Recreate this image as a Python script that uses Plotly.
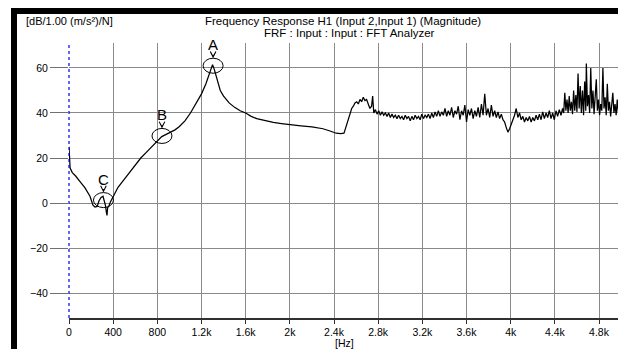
import plotly.graph_objects as go

# ---------------- data ----------------
freq_smooth = [0, 5, 10, 30, 60, 100, 145, 190, 217, 235, 255, 272, 290, 308, 320, 330, 338, 344,
               350, 360, 375, 400, 444, 500, 553, 600, 650, 700, 750, 800, 840, 880, 920, 960,
               1000, 1050, 1100, 1150, 1200, 1240, 1270, 1290, 1300, 1315, 1340, 1370, 1400,
               1450, 1500, 1550, 1600, 1650, 1700, 1775, 1850, 1925, 2000, 2100, 2200, 2300,
               2364, 2420, 2460, 2490]
mag_smooth = [25, 18, 15.5, 13.5, 12, 9.5, 6.7, 3, -1, -1.8, -1.5, 1, 2.5, 3, 1, -1, -4, -5.5,
              -2, -1.5, 0.5, 3, 7, 10.5, 14, 17, 20, 22.5, 25, 27.5, 29.5, 30.5, 31.5, 32.5,
              34, 36.5, 40, 44, 48.5, 53, 57, 60.5, 61.5, 59.5, 55, 50, 47.5,
              44.5, 42.5, 41, 40, 38.5, 37.5, 36.5, 35.8, 35.3, 34.8, 34.3, 33.8, 33,
              32, 31, 30.8, 31]

freq_noisy = [2500, 2515, 2530, 2545, 2560, 2575, 2590, 2605, 2620, 2635, 2650, 2665, 2680, 2695,
              2710, 2725, 2740, 2750, 2760, 2775, 2790, 2805, 2820, 2835, 2850, 2865, 2880, 2895,
              2910, 2925, 2940, 2955, 2970, 2985, 3000, 3015, 3030, 3045, 3060, 3075, 3090, 3105,
              3120, 3135, 3150, 3165, 3180, 3195, 3210, 3225, 3240, 3255, 3270, 3285, 3300, 3315,
              3330, 3345, 3360, 3375, 3390, 3405, 3420, 3435, 3450, 3465, 3480, 3495, 3510, 3525,
              3540, 3555, 3570, 3585, 3600, 3615, 3630, 3645, 3660, 3675, 3690, 3705, 3720, 3735,
              3750, 3765, 3780, 3795, 3810, 3825, 3840, 3855, 3870, 3885, 3900, 3915, 3930, 3945,
              3960, 3975, 3990, 4005, 4020, 4035, 4050, 4065, 4080, 4095, 4110, 4125, 4140, 4155,
              4170, 4185, 4200, 4215, 4230, 4245, 4260, 4275, 4290, 4305, 4320, 4335, 4350, 4365,
              4380, 4395, 4410, 4425, 4440, 4455, 4470, 4480, 4490, 4500, 4510, 4520, 4530, 4540,
              4550, 4560, 4570, 4580, 4590, 4600, 4610, 4620, 4630, 4640, 4650, 4660, 4670, 4680,
              4685, 4695, 4705, 4715, 4725, 4735, 4745, 4755, 4765, 4775, 4785, 4795, 4805, 4815,
              4825, 4835, 4845, 4855, 4865, 4875, 4885, 4895, 4905, 4915, 4925, 4935, 4945, 4955,
              4965, 4975, 4985, 4995]
mag_noisy = [32.5, 35, 37.5, 40, 42, 43, 44.5, 45, 44, 46, 45, 47, 45.5, 46,
             44, 42, 43, 47.5, 40, 41.5, 39.5, 41, 39, 40.5, 39, 40, 38.5, 40,
             38, 39.5, 38, 39, 37.5, 39, 37.5, 38.5, 37, 39, 37.5, 38.5, 36.5, 38.5,
             37, 39, 37.5, 38.5, 37, 39.5, 37.5, 39, 38, 39.5, 37.5, 40, 38, 40.5,
             38.5, 41, 38.5, 40.5, 39, 42, 38.5, 41, 39, 42.5, 38, 41, 39.5, 43,
             37, 41, 39, 43.5, 36, 41.5, 39, 42, 37.5, 41, 38.5, 42.5, 38, 44,
             39, 48.5, 39, 42, 38, 43.5, 38.5, 41, 38, 40.5, 37.5, 39.5, 37, 36,
             33.5, 31.5, 33, 35.5, 37, 39, 42, 38, 40, 37, 38.5, 36, 38, 36.5,
             38.5, 36, 38, 36.5, 39, 37, 39.5, 37, 40.5, 37.5, 40, 38, 41, 37.5,
             40, 37, 41, 38.5, 41.5, 39, 42, 40, 49, 41, 46, 40, 47.5, 41,
             45, 39.5, 50, 41, 48, 40.5, 57.5, 42, 52, 40, 50, 39, 54, 41,
             62, 43, 48, 40, 60, 42, 50, 39.5, 47, 55, 41, 46, 39, 44,
             41, 60, 42, 47, 39, 53, 41, 45, 38.5, 44, 49, 40, 44, 39,
             46, 40.5, 43, 41]

freq_hz = freq_smooth + freq_noisy
mag_db = mag_smooth + mag_noisy

marker_labels = ["A", "B", "C"]
marker_freq = [1305, 842, 312]
marker_db = [61, 29.8, 1.3]

x_tickvals = [0, 400, 800, 1200, 1600, 2000, 2400, 2800, 3200, 3600, 4000, 4400, 4800]
x_ticktext = ["0", "400", "800", "1.2k", "1.6k", "2k", "2.4k", "2.8k", "3.2k", "3.6k", "4k", "4.4k", "4.8k"]
y_tickvals = [-40, -20, 0, 20, 40, 60]

title_line1 = "Frequency Response H1 (Input 2,Input 1) (Magnitude)"
title_line2 = "FRF : Input : Input : FFT Analyzer"
y_unit = "[dB/1.00 (m/s²)/N]"
x_unit = "[Hz]"

# ---------------- figure ----------------
# the page body has an 8px margin, so the figure is 8px smaller than the window
OFF = 8
W, H = 626 - OFF, 349 - OFF
ML, MR, MT, MB = 69 - OFF, 4, 43 - OFF, 31
PW, PH = W - ML - MR, H - MT - MB


def px2paper_x(px):  # px in reference-window pixels
    return (px - 69) / PW


def px2paper_y(py):
    return (318 - py) / PH


FONT = "Liberation Sans, Arial, sans-serif"

fig = go.Figure()
fig.add_trace(go.Scatter(x=freq_hz, y=mag_db, mode="lines",
                         line=dict(color="black", width=1.25), hoverinfo="skip",
                         showlegend=False))

shapes = []
# black frame (top band + left bar)
shapes.append(dict(type="rect", xref="paper", yref="paper",
                   x0=px2paper_x(11), x1=px2paper_x(627), y0=px2paper_y(14), y1=px2paper_y(8),
                   fillcolor="black", line=dict(width=0), layer="above"))
shapes.append(dict(type="rect", xref="paper", yref="paper",
                   x0=px2paper_x(11), x1=px2paper_x(17), y0=px2paper_y(350), y1=px2paper_y(8),
                   fillcolor="black", line=dict(width=0), layer="above"))
# dotted blue left axis line
shapes.append(dict(type="line", xref="paper", yref="paper", x0=0, x1=0, y0=0, y1=1,
                   line=dict(color="#0000ee", width=1.2, dash="dot"), layer="above"))

annotations = []
for lab, fx, fy in zip(marker_labels, marker_freq, marker_db):
    shapes.append(dict(type="circle", xref="x", yref="y", xsizemode="pixel", ysizemode="pixel",
                       xanchor=fx, yanchor=fy, x0=-10, x1=10, y0=-7.5, y1=7.5,
                       line=dict(color="black", width=1), layer="above"))
    annotations.append(dict(x=fx, y=fy, xref="x", yref="y", text=lab, showarrow=True,
                            ax=0, ay=-21, arrowhead=5, arrowsize=1.1, arrowwidth=1,
                            arrowcolor="black", standoff=7.5,
                            font=dict(family=FONT, size=15, color="black")))

annotations.append(dict(x=px2paper_x(343), y=px2paper_y(21), xref="paper", yref="paper", text=title_line1,
                        showarrow=False, xanchor="center", yanchor="middle",
                        font=dict(family=FONT, size=11.5, color="black")))
annotations.append(dict(x=px2paper_x(349), y=px2paper_y(33), xref="paper", yref="paper",
                        text=title_line2, showarrow=False, xanchor="center", yanchor="middle",
                        font=dict(family=FONT, size=11.5, color="black")))
annotations.append(dict(x=px2paper_x(24), y=px2paper_y(21), xref="paper", yref="paper", text=y_unit,
                        showarrow=False, xanchor="left", yanchor="middle",
                        font=dict(family=FONT, size=11, color="black")))
annotations.append(dict(x=px2paper_x(344), y=px2paper_y(342.5), xref="paper", yref="paper", text=x_unit,
                        showarrow=False, xanchor="center", yanchor="middle",
                        font=dict(family=FONT, size=10.5, color="black")))

fig.update_layout(
    width=W, height=H, margin=dict(l=ML, r=MR, t=MT, b=MB, pad=0),
    paper_bgcolor="white", plot_bgcolor="white",
    shapes=shapes, annotations=annotations, showlegend=False,
    xaxis=dict(range=[0, 5008], tickvals=x_tickvals, ticktext=x_ticktext,
               showgrid=True, gridcolor="#8a8a8a", gridwidth=1, zeroline=False,
               showline=True, linecolor="#303030", linewidth=1.5,
               ticks="outside", ticklen=4, tickcolor="#303030", tickwidth=1,
               tickfont=dict(family=FONT, size=10.5, color="black"), fixedrange=True),
    yaxis=dict(range=[-51.1, 71.1], tickvals=y_tickvals,
               showgrid=True, gridcolor="#8a8a8a", gridwidth=1, zeroline=False,
               showline=False, ticks="outside", ticklen=18, tickcolor="#707070", tickwidth=1,
               tickfont=dict(family=FONT, size=10.5, color="black"), fixedrange=True),
)

fig.write_html("out.html")
